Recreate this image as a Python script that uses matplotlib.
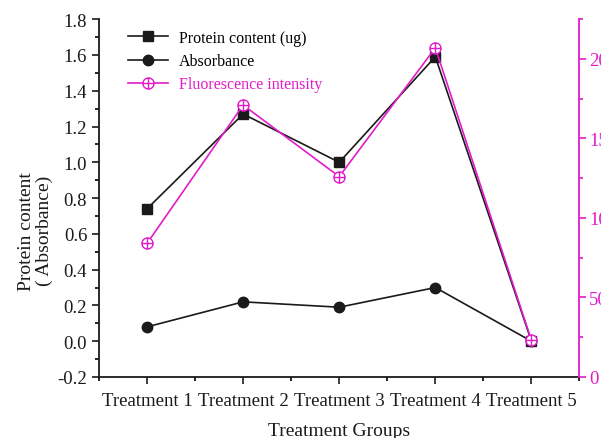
import numpy as np
import matplotlib.pyplot as plt
from matplotlib.path import Path
from matplotlib.lines import Line2D
from matplotlib.ticker import MultipleLocator

plt.rcParams['font.family'] = ['Liberation Serif', 'DejaVu Serif']

groups = ['Treatment 1', 'Treatment 2', 'Treatment 3', 'Treatment 4', 'Treatment 5']
protein = [0.74, 1.27, 1.00, 1.59, 0.00]
absorbance = [0.08, 0.22, 0.19, 0.30, 0.00]
fluorescence = [84, 171, 126, 207, 23]

pink = '#E21BCB'

# circle with a cross inside, for the fluorescence points
circ = Path.unit_circle()
cross = Path([(-1, 0), (1, 0), (0, -1), (0, 1)],
             [Path.MOVETO, Path.LINETO, Path.MOVETO, Path.LINETO])
oplus = Path.make_compound_path(circ, cross)

fig = plt.figure(figsize=(6.01, 4.39), dpi=100)
ax = fig.add_axes([0.1647, 0.139, 0.7995, 0.815])
x = np.arange(1, len(groups) + 1)

ax.plot(x, protein, color='#1a1a1a', marker='s', ms=7, lw=1.2)
ax.plot(x, absorbance, color='#1a1a1a', marker='o', ms=7.5, lw=1.2)
ax.set_xlim(0.5, 5.5)
ax.set_ylim(-0.2, 1.8)
ax.set_xticks(x)
ax.set_xticklabels(groups)
ax.xaxis.set_minor_locator(MultipleLocator(0.5))
ax.yaxis.set_major_locator(MultipleLocator(0.2))
ax.yaxis.set_minor_locator(MultipleLocator(0.1))
ax.set_yticklabels([f'{v:.1f}' for v in ax.get_yticks()])
ax.tick_params(axis='both', which='major', direction='out', length=5, width=1.2,
               labelsize=13.5, colors='#1a1a1a')
ax.tick_params(axis='both', which='minor', direction='out', length=3, width=1.2)
ax.tick_params(axis='x', pad=6)
ax.spines['top'].set_visible(False)
ax.spines['right'].set_visible(False)
for s in ['left', 'bottom']:
    ax.spines[s].set_linewidth(1.3)
    ax.spines[s].set_color('#1a1a1a')

ax.set_ylabel('Protein content\n( Absorbance)', fontsize=14, color='#1a1a1a',
              linespacing=1.1)
ax.yaxis.set_label_coords(-0.095, 0.41)
ax.set_xlabel('Treatment Groups', fontsize=14, color='#1a1a1a', labelpad=9)

ax2 = ax.twinx()
ax2.plot(x, fluorescence, color=pink, marker=oplus, ms=8, lw=1.2,
         mfc='white', mec=pink, mew=1.0)
ax2.set_ylim(0, 225)
ax2.yaxis.set_major_locator(MultipleLocator(50))
ax2.yaxis.set_minor_locator(MultipleLocator(25))
ax2.tick_params(axis='y', which='major', direction='out', length=5, width=1.2,
                labelsize=13.5, colors=pink, pad=2)
ax2.tick_params(axis='y', which='minor', direction='out', length=3, width=1.2,
                colors=pink)
for s in ['top', 'left', 'bottom']:
    ax2.spines[s].set_visible(False)
ax2.spines['right'].set_color(pink)
ax2.spines['right'].set_linewidth(1.3)

handles = [
    Line2D([], [], color='#1a1a1a', marker='s', ms=7, lw=1.2),
    Line2D([], [], color='#1a1a1a', marker='o', ms=7.5, lw=1.2),
    Line2D([], [], color=pink, marker=oplus, ms=8, lw=1.2, mfc='white', mec=pink),
]
leg = ax2.legend(handles, ['Protein content (ug)', 'Absorbance', 'Fluorescence intensity'],
                 loc='upper left', bbox_to_anchor=(0.03, 1.01), frameon=False,
                 fontsize=11.5, handlelength=2.5, handletextpad=0.7,
                 labelspacing=0.45)
leg.get_texts()[2].set_color(pink)

fig.savefig('out.png', dpi=100)
